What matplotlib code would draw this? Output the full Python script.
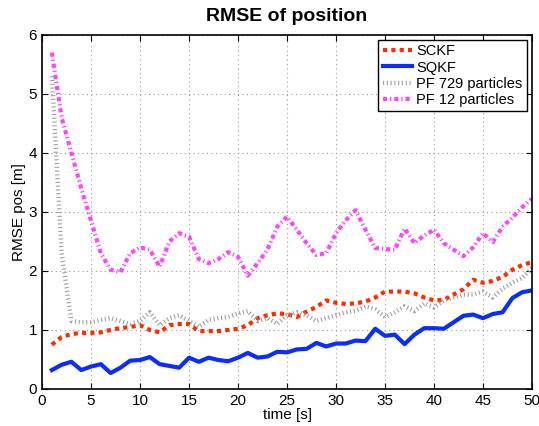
import numpy as np
import matplotlib.pyplot as plt

plt.rcParams['font.family'] = ['Liberation Sans', 'DejaVu Sans']

t = np.arange(1, 51)

sckf = [0.75, 0.88, 0.93, 0.95, 0.95, 0.96, 1.0, 1.03, 1.05, 1.08,
        1.0, 0.96, 1.08, 1.1, 1.1, 0.98, 0.98, 0.98, 1.0, 1.02,
        1.08, 1.2, 1.25, 1.28, 1.27, 1.22, 1.31, 1.39, 1.5, 1.46,
        1.44, 1.45, 1.48, 1.55, 1.65, 1.65, 1.65, 1.62, 1.55, 1.5,
        1.51, 1.6, 1.69, 1.85, 1.8, 1.83, 1.9, 2.02, 2.1, 2.15]

sqkf = [0.32, 0.41, 0.46, 0.32, 0.38, 0.42, 0.27, 0.36, 0.48, 0.49,
        0.54, 0.42, 0.39, 0.36, 0.53, 0.46, 0.53, 0.49, 0.47, 0.53,
        0.61, 0.53, 0.55, 0.63, 0.62, 0.67, 0.68, 0.78, 0.72, 0.77,
        0.77, 0.82, 0.81, 1.02, 0.9, 0.92, 0.76, 0.92, 1.03, 1.03,
        1.02, 1.13, 1.24, 1.26, 1.2, 1.27, 1.3, 1.54, 1.64, 1.67]

pf729 = [5.3, 2.3, 1.15, 1.13, 1.13, 1.17, 1.2, 1.15, 1.1, 1.15,
         1.3, 1.08, 1.2, 1.25, 1.15, 1.05, 1.17, 1.2, 1.22, 1.28,
         1.32, 1.15, 1.2, 1.1, 1.25, 1.3, 1.25, 1.15, 1.2, 1.25,
         1.3, 1.32, 1.4, 1.35, 1.22, 1.3, 1.4, 1.32, 1.45, 1.38,
         1.5, 1.55, 1.6, 1.6, 1.65, 1.55, 1.7, 1.8, 1.88, 2.05]

pf12 = [5.7, 4.6, 4.0, 3.4, 2.85, 2.3, 2.02, 1.98, 2.3, 2.4,
        2.36, 2.07, 2.5, 2.64, 2.58, 2.2, 2.13, 2.2, 2.32, 2.24,
        1.92, 2.13, 2.36, 2.75, 2.92, 2.7, 2.47, 2.27, 2.3, 2.64,
        2.86, 3.03, 2.7, 2.39, 2.37, 2.36, 2.72, 2.47, 2.6, 2.7,
        2.47, 2.36, 2.25, 2.4, 2.64, 2.49, 2.75, 2.9, 3.08, 3.22]

fig = plt.figure(figsize=(5.39, 4.26), dpi=100)
ax = fig.add_axes([0.078, 0.087, 0.909, 0.831])

ax.plot(t, sckf, color="#ff2a00", linestyle=(0, (1, 1)), linewidth=3, label="SCKF")
ax.plot(t, sqkf, color="#0a2cff", linestyle="-", linewidth=3, label="SQKF")
ax.plot(t, pf729, color="#a0a0a0", linestyle=(0, (0.25, 0.6)), linewidth=3.2, label="PF 729 particles")
ax.plot(t, pf12, color="#ff44ff", linestyle=(0, (1, 0.7, 0.3, 0.7)), linewidth=3, label="PF 12 particles")

ax.set_xlim(0, 50)
ax.set_ylim(0, 6)
ax.set_xticks(np.arange(0, 51, 5))
ax.set_yticks(np.arange(0, 7, 1))
ax.tick_params(direction="in", top=True, right=True, labelsize=11, length=4)
ax.grid(True, linestyle=(0, (1, 3)), color="#999999", linewidth=0.8)
for s in ax.spines.values():
    s.set_linewidth(1.2)

ax.set_title("RMSE of position", fontsize=14, weight="bold", pad=10)
ax.set_xlabel("time [s]", fontsize=11, labelpad=0)
ax.set_ylabel("RMSE pos [m]", fontsize=11, labelpad=2)

leg = ax.legend(loc="upper right", fontsize=10.5, fancybox=False, framealpha=1,
                edgecolor="black", handlelength=2.0, handletextpad=0.3,
                borderpad=0.3, labelspacing=0.15, borderaxespad=0.35)
leg.get_frame().set_linewidth(1.0)

plt.savefig("out.png", dpi=100)
